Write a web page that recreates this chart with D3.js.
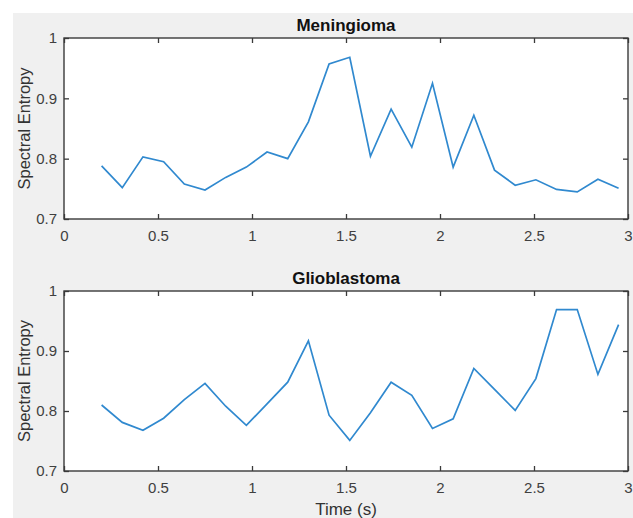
<!DOCTYPE html>
<html>
<head>
<meta charset="utf-8">
<script src="https://cdn.jsdelivr.net/npm/d3@7"></script>
<style>
  body { margin: 0; background: #fff; }
  text { font-family: "Liberation Sans", Arial, sans-serif; }
</style>
</head>
<body>
<svg id="chart" width="633" height="518"></svg>
<script>
// time points (s)
const times = [0.20, 0.31, 0.42, 0.53, 0.64, 0.75, 0.86, 0.97, 1.08, 1.19, 1.30, 1.41, 1.52,
               1.63, 1.74, 1.85, 1.96, 2.07, 2.18, 2.29, 2.40, 2.51, 2.62, 2.73, 2.84, 2.95];
const meningioma = [0.788, 0.752, 0.803, 0.795, 0.758, 0.748, 0.769, 0.786, 0.811, 0.800, 0.861, 0.957, 0.968,
                    0.804, 0.882, 0.819, 0.925, 0.786, 0.872, 0.781, 0.756, 0.765, 0.749, 0.745, 0.766, 0.751];
const glioblastoma = [0.810, 0.781, 0.768, 0.788, 0.819, 0.846, 0.808, 0.776, 0.812, 0.848, 0.917, 0.793, 0.751,
                      0.797, 0.848, 0.826, 0.771, 0.787, 0.871, 0.836, 0.801, 0.854, 0.969, 0.969, 0.861, 0.944];
const titles = ["Meningioma", "Glioblastoma"];
const xTicks = [0, 0.5, 1, 1.5, 2, 2.5, 3];
const yTicks = [0.7, 0.8, 0.9, 1];

const svg = d3.select("#chart");

// figure background
svg.append("rect").attr("x", 13).attr("y", 13).attr("width", 620).attr("height", 505).attr("fill", "#f0f0f0");

const left = 64, right = 628;
const panels = [
  {top: 38, bottom: 219, values: meningioma, title: titles[0]},
  {top: 291, bottom: 471, values: glioblastoma, title: titles[1]}
];

const x = d3.scaleLinear().domain([0, 3]).range([left, right]);
const axisCol = "#3a3a3a";

panels.forEach((p, i) => {
  const y = d3.scaleLinear().domain([0.7, 1]).range([p.bottom, p.top]);
  const g = svg.append("g");

  g.append("rect").attr("x", left).attr("y", p.top)
    .attr("width", right - left).attr("height", p.bottom - p.top).attr("fill", "#fff");

  // axes with ticks inward (box on)
  const style = a => a.selectAll("text").attr("fill", "#404040").style("font-size", "15px");
  g.append("g").attr("transform", `translate(0,${p.bottom})`)
    .call(d3.axisBottom(x).tickValues(xTicks).tickFormat(d3.format("")).tickSizeInner(-5).tickSizeOuter(0).tickPadding(11))
    .call(style);
  g.append("g").attr("transform", `translate(0,${p.top})`)
    .call(d3.axisTop(x).tickValues(xTicks).tickFormat("").tickSizeInner(-5).tickSizeOuter(0));
  g.append("g").attr("transform", `translate(${left},0)`)
    .call(d3.axisLeft(y).tickValues(yTicks).tickFormat(d3.format("")).tickSizeInner(-5).tickSizeOuter(0).tickPadding(7))
    .call(style);
  g.append("g").attr("transform", `translate(${right},0)`)
    .call(d3.axisRight(y).tickValues(yTicks).tickFormat("").tickSizeInner(-5).tickSizeOuter(0));
  g.selectAll(".domain").remove();
  g.selectAll(".tick line").attr("stroke", axisCol).attr("stroke-width", 1.3);
  g.append("rect").attr("x", left).attr("y", p.top)
    .attr("width", right - left).attr("height", p.bottom - p.top)
    .attr("fill", "none").attr("stroke", axisCol).attr("stroke-width", 1.4);

  const line = d3.line().x((d, k) => x(times[k])).y(d => y(d));
  g.append("path").datum(p.values).attr("d", line)
    .attr("fill", "none").attr("stroke", "#3089cf").attr("stroke-width", 1.7);

  g.append("text").attr("x", (left + right) / 2).attr("y", p.top - 7)
    .attr("text-anchor", "middle").style("font-size", "17px").style("font-weight", "bold")
    .attr("fill", "#111").text(p.title);

  g.append("text").attr("transform", `translate(30,${(p.top + p.bottom) / 2}) rotate(-90)`)
    .attr("text-anchor", "middle").style("font-size", "16.5px").attr("fill", "#333")
    .text("Spectral Entropy");
});

svg.append("text").attr("x", (left + right) / 2).attr("y", 515)
  .attr("text-anchor", "middle").style("font-size", "17px").attr("fill", "#333").text("Time (s)");
</script>
</body>
</html>
